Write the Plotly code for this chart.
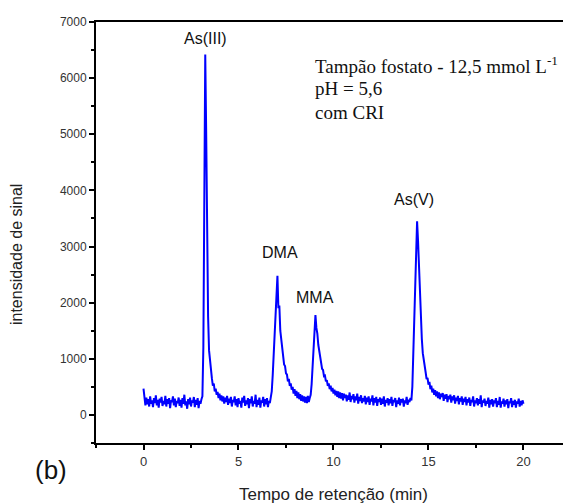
import plotly.graph_objects as go

# ---- data ----
t_start = 0.0      # min
t_step = 0.05      # min, sampling interval
sinal = [
    # 0.00 - 0.95
    470, 300, 170, 310, 190, 280, 150, 330, 200, 260, 140, 300, 210, 350, 170, 270, 130, 290, 220, 320,
    # 1.00 - 1.95
    160, 250, 190, 340, 150, 280, 200, 300, 120, 260, 230, 330, 170, 290, 140, 250, 210, 310, 160, 270,
    # 2.00 - 2.95
    130, 300, 200, 360, 170, 240, 110, 280, 190, 310, 150, 260, 220, 320, 140, 270, 180, 300, 120, 250,
    # 3.00 - 3.95  As(III)
    200, 280, 330, 1200, 4200, 6420, 5000, 2900, 1750, 1150, 950, 720, 650, 520, 560, 420, 470, 360, 410, 300,
    # 4.00 - 4.95
    380, 260, 350, 240, 330, 200, 310, 230, 340, 180, 290, 210, 320, 150, 270, 230, 330, 170, 280, 140,
    # 5.00 - 5.95
    300, 200, 250, 130, 310, 220, 340, 160, 260, 190, 300, 120, 280, 210, 330, 150, 250, 200, 360, 140,
    # 6.00 - 6.95
    270, 180, 310, 130, 260, 220, 320, 150, 280, 190, 300, 140, 250, 210, 340, 420, 700, 1050, 1450, 1950,
    # 7.00 - 7.95  DMA
    2200, 2480, 1900, 1950, 1500, 1350, 1150, 1050, 900, 870, 740, 720, 600, 640, 520, 560, 450, 500, 380, 460,
    # 8.00 - 8.95
    340, 430, 300, 400, 280, 370, 250, 350, 240, 330, 220, 320, 210, 340, 230, 300, 360, 550, 900, 1300,
    # 9.00 - 9.95  MMA
    1600, 1780, 1550, 1450, 1250, 1150, 1000, 950, 820, 800, 690, 700, 600, 620, 520, 560, 460, 520, 420, 480,
    # 10.00 - 10.95
    380, 450, 350, 430, 320, 420, 300, 400, 290, 390, 260, 380, 300, 360, 240, 350, 270, 400, 230, 340,
    # 11.00 - 11.95
    280, 370, 220, 330, 260, 380, 200, 320, 250, 350, 210, 300, 240, 340, 190, 310, 230, 330, 180, 290,
    # 12.00 - 12.95
    240, 350, 170, 300, 220, 320, 160, 280, 230, 310, 180, 290, 200, 330, 150, 270, 220, 300, 170, 280,
    # 13.00 - 13.95
    210, 320, 160, 270, 230, 300, 140, 260, 200, 310, 170, 280, 220, 290, 150, 260, 210, 320, 180, 270,
    # 14.00 - 14.95  As(V)
    230, 300, 260, 500, 1100, 1900, 2500, 3000, 3450, 3100, 2600, 2200, 1700, 1350, 1100, 950, 820, 760, 640, 660,
    # 15.00 - 15.95
    540, 590, 460, 520, 400, 470, 360, 440, 330, 420, 300, 400, 280, 380, 320, 390, 250, 360, 290, 370,
    # 16.00 - 16.95
    230, 340, 280, 360, 220, 330, 260, 350, 200, 310, 250, 340, 190, 300, 240, 330, 180, 290, 230, 320,
    # 17.00 - 17.95
    170, 280, 220, 310, 160, 270, 230, 330, 150, 260, 210, 300, 170, 280, 200, 350, 140, 260, 220, 290,
    # 18.00 - 18.95
    160, 250, 200, 310, 130, 270, 190, 280, 150, 260, 210, 300, 140, 250, 180, 320, 130, 240, 200, 290,
    # 19.00 - 19.95
    150, 260, 190, 280, 120, 240, 210, 300, 140, 250, 180, 270, 130, 240, 200, 290, 150, 250, 170, 260,
    # 20.00
    200,
]

peak_names = ["As(III)", "DMA", "MMA", "As(V)"]
x_ticks = [0, 5, 10, 15, 20]
y_ticks = [0, 1000, 2000, 3000, 4000, 5000, 6000, 7000]

x_title = "Tempo de retenção (min)"
y_title = "intensidade de sinal"
panel_label = "(b)"
cond_lines = ["Tampão fostato - 12,5 mmol L<sup>-1</sup>", "pH = 5,6", "com CRI"]

# ---- figure ----
SANS = "Liberation Sans, Arial, sans-serif"
SERIF = "Liberation Serif, Times New Roman, serif"

fig = go.Figure()
fig.add_trace(go.Scatter(
    y=sinal, x0=t_start, dx=t_step, mode="lines",
    line=dict(color="#0000ff", width=2), showlegend=False, hoverinfo="skip",
))

# peak labels (data coordinates of the text centres)
peak_label_pos = [(3.24, 6715), (7.18, 2900), (9.05, 2090), (14.26, 3840)]
for name, (px, py) in zip(peak_names, peak_label_pos):
    fig.add_annotation(x=px, y=py, xref="x", yref="y", text=name, showarrow=False,
                       font=dict(family=SANS, size=16, color="#111"),
                       xanchor="center", yanchor="middle")

# condition text (Times), one annotation per line
cond_y = [0.898, 0.841, 0.784]
for line_txt, yy in zip(cond_lines, cond_y):
    fig.add_annotation(x=0.4647, y=yy, xref="paper", yref="paper", text=line_txt,
                       showarrow=False, xanchor="left", yanchor="middle",
                       font=dict(family=SERIF, size=19, color="#111"))

# axis titles and panel label
fig.add_annotation(x=0.5096, y=-0.1235, xref="paper", yref="paper", text=x_title,
                   showarrow=False, xanchor="center", yanchor="middle",
                   font=dict(family=SANS, size=17, color="#222"))
fig.add_annotation(x=-0.169, y=0.4466, xref="paper", yref="paper", text=y_title,
                   showarrow=False, xanchor="center", yanchor="middle", textangle=-90,
                   font=dict(family=SANS, size=16, color="#222"))
fig.add_annotation(x=-0.0964, y=-0.064, xref="paper", yref="paper", text=panel_label,
                   showarrow=False, xanchor="center", yanchor="middle",
                   font=dict(family=SANS, size=26, color="#111"))

fig.update_xaxes(
    range=[-2.5, 22.08], tickmode="array", tickvals=x_ticks,
    ticks="outside", ticklen=5, tickwidth=1.5, tickcolor="black",
    minor=dict(dtick=2.5, tick0=0, ticks="outside", ticklen=3, tickcolor="black", tickwidth=1.5),
    showline=True, linecolor="black", linewidth=2, mirror=True,
    showgrid=False, zeroline=False,
    tickfont=dict(family=SANS, size=13, color="#333"),
)
fig.update_yaxes(
    range=[-500, 7000], tickmode="array", tickvals=y_ticks,
    ticks="outside", ticklen=5, tickwidth=1.5, tickcolor="black",
    minor=dict(dtick=500, tick0=0, ticks="outside", ticklen=3, tickcolor="black", tickwidth=1.5),
    showline=True, linecolor="black", linewidth=2, mirror=False,
    showgrid=False, zeroline=False,
    tickfont=dict(family=SANS, size=12, color="#333"),
)

fig.update_layout(
    width=563, height=504,
    margin=dict(l=96, r=0, t=22, b=61),
    paper_bgcolor="white", plot_bgcolor="white",
)

fig.write_html("out.html")
